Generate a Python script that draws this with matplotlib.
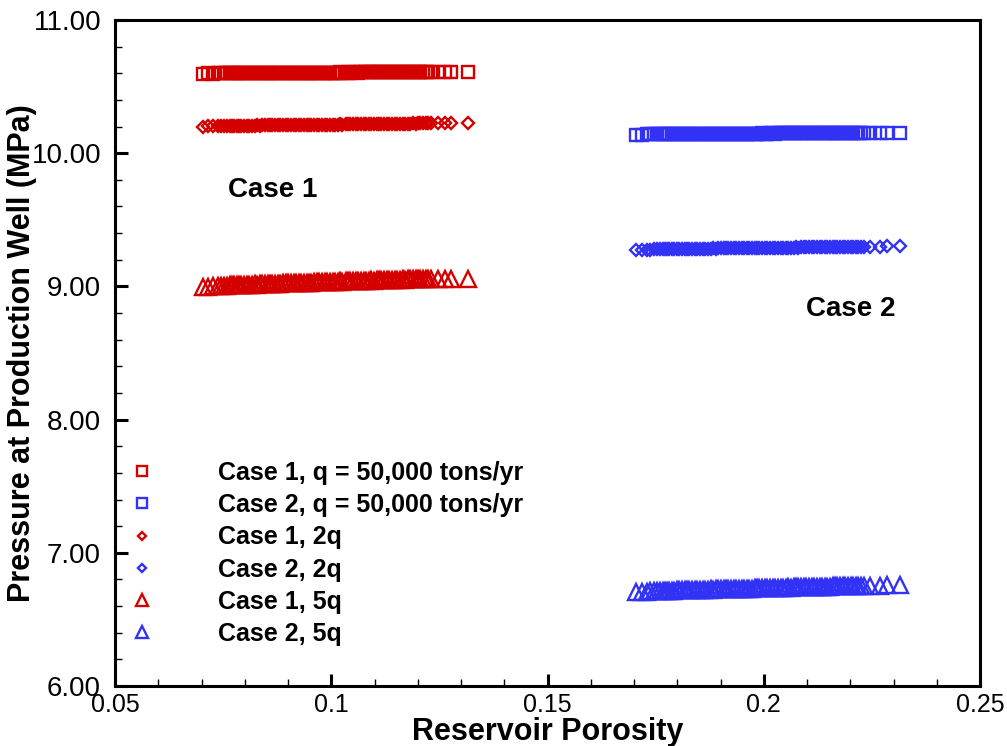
import matplotlib.pyplot as plt
from matplotlib.ticker import MultipleLocator, FormatStrFormatter

# porosity realizations (same set drawn for q, 2q and 5q)
phi_case1 = [0.0704, 0.0716, 0.0727, 0.0738, 0.0745, 0.0752, 0.0758, 0.0765, 0.0771, 0.0776,
             0.0781, 0.0787, 0.0792, 0.0799, 0.0805, 0.0810, 0.0817, 0.0823, 0.0828, 0.0835,
             0.0841, 0.0846, 0.0853, 0.0859, 0.0864, 0.0871, 0.0877, 0.0882, 0.0889, 0.0895,
             0.0900, 0.0907, 0.0913, 0.0918, 0.0925, 0.0931, 0.0936, 0.0943, 0.0949, 0.0954,
             0.0961, 0.0967, 0.0972, 0.0979, 0.0985, 0.0990, 0.0997, 0.1003, 0.1008, 0.1015,
             0.1021, 0.1026, 0.1033, 0.1039, 0.1044, 0.1051, 0.1057, 0.1062, 0.1069, 0.1075,
             0.1080, 0.1087, 0.1093, 0.1098, 0.1105, 0.1111, 0.1116, 0.1123, 0.1129, 0.1134,
             0.1141, 0.1147, 0.1152, 0.1159, 0.1165, 0.1170, 0.1177, 0.1183, 0.1188, 0.1195,
             0.1201, 0.1206, 0.1213, 0.1219, 0.1224, 0.1231,
             0.1246, 0.1262, 0.1276, 0.1316]
phi_case2 = [0.1705, 0.1718, 0.1729, 0.1738, 0.1746, 0.1753, 0.1760, 0.1766, 0.1771, 0.1776,
             0.1781, 0.1787, 0.1792, 0.1799, 0.1805, 0.1810, 0.1817, 0.1823, 0.1828, 0.1835,
             0.1841, 0.1846, 0.1853, 0.1859, 0.1864, 0.1871, 0.1877, 0.1882, 0.1889, 0.1895,
             0.1900, 0.1907, 0.1913, 0.1918, 0.1925, 0.1931, 0.1936, 0.1943, 0.1949, 0.1954,
             0.1961, 0.1967, 0.1972, 0.1979, 0.1985, 0.1990, 0.1997, 0.2003, 0.2008, 0.2015,
             0.2021, 0.2026, 0.2033, 0.2039, 0.2044, 0.2051, 0.2057, 0.2062, 0.2069, 0.2075,
             0.2080, 0.2087, 0.2093, 0.2098, 0.2105, 0.2111, 0.2116, 0.2123, 0.2129, 0.2134,
             0.2141, 0.2147, 0.2152, 0.2159, 0.2165, 0.2170, 0.2177, 0.2183, 0.2188, 0.2195,
             0.2201, 0.2206, 0.2213, 0.2219, 0.2224, 0.2231,
             0.2246, 0.2269, 0.2285, 0.2316]

# pressure at production well (MPa)
p_case1_q = [10.598, 10.599, 10.598, 10.600, 10.599, 10.600, 10.600, 10.601, 10.600, 10.601,
             10.600, 10.601, 10.600, 10.601, 10.601, 10.602, 10.601, 10.602, 10.601, 10.602,
             10.602, 10.601, 10.602, 10.603, 10.602, 10.602, 10.603, 10.602, 10.603, 10.603,
             10.602, 10.603, 10.604, 10.603, 10.603, 10.604, 10.603, 10.604, 10.604, 10.603,
             10.604, 10.605, 10.604, 10.604, 10.605, 10.604, 10.605, 10.605, 10.604, 10.605,
             10.606, 10.605, 10.605, 10.606, 10.605, 10.606, 10.606, 10.605, 10.606, 10.607,
             10.606, 10.606, 10.607, 10.606, 10.607, 10.607, 10.606, 10.607, 10.608, 10.607,
             10.607, 10.608, 10.607, 10.608, 10.608, 10.607, 10.608, 10.608, 10.609, 10.608,
             10.608, 10.609, 10.608, 10.609, 10.609, 10.608,
             10.607, 10.608, 10.607, 10.609]
p_case1_2q = [10.200, 10.201, 10.202, 10.202, 10.203, 10.203, 10.204, 10.204, 10.205, 10.205,
              10.205, 10.206, 10.205, 10.206, 10.207, 10.206, 10.207, 10.207, 10.208, 10.207,
              10.208, 10.208, 10.209, 10.208, 10.209, 10.209, 10.210, 10.209, 10.210, 10.210,
              10.211, 10.210, 10.211, 10.211, 10.212, 10.211, 10.212, 10.212, 10.213, 10.212,
              10.213, 10.213, 10.214, 10.213, 10.214, 10.214, 10.215, 10.214, 10.215, 10.215,
              10.216, 10.215, 10.216, 10.216, 10.217, 10.216, 10.217, 10.217, 10.218, 10.217,
              10.218, 10.218, 10.219, 10.218, 10.219, 10.219, 10.220, 10.219, 10.220, 10.220,
              10.221, 10.220, 10.221, 10.221, 10.222, 10.221, 10.222, 10.222, 10.223, 10.222,
              10.223, 10.223, 10.224, 10.223, 10.224, 10.224,
              10.224, 10.225, 10.225, 10.226]
p_case1_5q = [8.995, 8.998, 9.000, 9.002, 9.003, 9.005, 9.006, 9.007, 9.008, 9.009,
              9.010, 9.011, 9.010, 9.012, 9.013, 9.012, 9.014, 9.015, 9.014, 9.016,
              9.017, 9.016, 9.018, 9.019, 9.018, 9.020, 9.021, 9.020, 9.022, 9.023,
              9.022, 9.024, 9.025, 9.024, 9.026, 9.027, 9.026, 9.028, 9.029, 9.028,
              9.030, 9.031, 9.030, 9.032, 9.033, 9.032, 9.034, 9.035, 9.034, 9.036,
              9.037, 9.036, 9.038, 9.039, 9.038, 9.040, 9.041, 9.040, 9.042, 9.043,
              9.042, 9.044, 9.045, 9.044, 9.046, 9.047, 9.046, 9.048, 9.049, 9.048,
              9.050, 9.050, 9.049, 9.051, 9.052, 9.051, 9.052, 9.053, 9.052, 9.053,
              9.054, 9.053, 9.054, 9.055, 9.054, 9.055,
              9.055, 9.056, 9.056, 9.058]
p_case2_q = [10.140, 10.140, 10.141, 10.141, 10.141, 10.142, 10.142, 10.142, 10.142, 10.143,
             10.143, 10.142, 10.143, 10.143, 10.144, 10.143, 10.143, 10.144, 10.144, 10.143,
             10.144, 10.144, 10.145, 10.144, 10.144, 10.145, 10.145, 10.144, 10.145, 10.145,
             10.146, 10.145, 10.145, 10.146, 10.146, 10.145, 10.146, 10.146, 10.147, 10.146,
             10.146, 10.147, 10.147, 10.146, 10.147, 10.147, 10.148, 10.147, 10.147, 10.148,
             10.148, 10.147, 10.148, 10.148, 10.149, 10.148, 10.148, 10.149, 10.149, 10.148,
             10.149, 10.149, 10.150, 10.149, 10.149, 10.150, 10.150, 10.149, 10.150, 10.150,
             10.151, 10.150, 10.150, 10.151, 10.151, 10.150, 10.151, 10.151, 10.152, 10.151,
             10.151, 10.152, 10.152, 10.151, 10.152, 10.152,
             10.152, 10.152, 10.153, 10.153]
p_case2_2q = [9.275, 9.276, 9.277, 9.277, 9.278, 9.278, 9.279, 9.279, 9.280, 9.280,
              9.280, 9.281, 9.280, 9.281, 9.281, 9.282, 9.281, 9.282, 9.282, 9.283,
              9.282, 9.283, 9.283, 9.284, 9.283, 9.284, 9.284, 9.285, 9.284, 9.285,
              9.285, 9.286, 9.285, 9.286, 9.286, 9.287, 9.286, 9.287, 9.287, 9.288,
              9.287, 9.288, 9.288, 9.289, 9.288, 9.289, 9.289, 9.290, 9.289, 9.290,
              9.290, 9.291, 9.290, 9.291, 9.291, 9.292, 9.291, 9.292, 9.292, 9.293,
              9.292, 9.293, 9.293, 9.294, 9.293, 9.294, 9.294, 9.295, 9.294, 9.295,
              9.295, 9.296, 9.295, 9.296, 9.296, 9.297, 9.296, 9.297, 9.297, 9.298,
              9.297, 9.298, 9.298, 9.299, 9.298, 9.299,
              9.299, 9.299, 9.300, 9.300]
p_case2_5q = [6.705, 6.707, 6.709, 6.710, 6.711, 6.712, 6.713, 6.714, 6.715, 6.716,
              6.716, 6.717, 6.716, 6.718, 6.719, 6.718, 6.720, 6.720, 6.719, 6.721,
              6.722, 6.721, 6.723, 6.723, 6.722, 6.724, 6.725, 6.724, 6.726, 6.726,
              6.725, 6.727, 6.728, 6.727, 6.729, 6.729, 6.728, 6.730, 6.731, 6.730,
              6.732, 6.732, 6.731, 6.733, 6.734, 6.733, 6.735, 6.735, 6.734, 6.736,
              6.737, 6.736, 6.738, 6.738, 6.737, 6.739, 6.740, 6.739, 6.741, 6.741,
              6.740, 6.742, 6.743, 6.742, 6.744, 6.744, 6.743, 6.745, 6.746, 6.745,
              6.747, 6.747, 6.746, 6.748, 6.749, 6.748, 6.750, 6.750, 6.749, 6.751,
              6.752, 6.751, 6.752, 6.753, 6.752, 6.753,
              6.753, 6.754, 6.755, 6.757]

RED = '#d40000'
BLUE = '#3232f6'
FONT = 'Liberation Sans'

fig = plt.figure(figsize=(10.07, 7.46), dpi=100)
ax = fig.add_axes([0.1142, 0.0804, 0.859, 0.8928])

series = [
    (phi_case1, p_case1_q, 's', 9, RED, 'Case 1, q = 50,000 tons/yr'),
    (phi_case2, p_case2_q, 's', 9, BLUE, 'Case 2, q = 50,000 tons/yr'),
    (phi_case1, p_case1_2q, 'D', 6, RED, 'Case 1, 2q'),
    (phi_case2, p_case2_2q, 'D', 6, BLUE, 'Case 2, 2q'),
    (phi_case1, p_case1_5q, '^', 11, RED, 'Case 1, 5q'),
    (phi_case2, p_case2_5q, '^', 11, BLUE, 'Case 2, 5q'),
]
for x, y, m, ms, c, lab in series:
    ax.plot(x, y, m, ms=ms, mfc='none', mec=c, mew=1.7, label=lab)

ax.set_xlim(0.05, 0.25)
ax.set_ylim(6.0, 11.0)
ax.xaxis.set_minor_locator(MultipleLocator(0.01))
ax.yaxis.set_major_locator(MultipleLocator(1.0))
ax.yaxis.set_minor_locator(MultipleLocator(0.2))
ax.yaxis.set_major_formatter(FormatStrFormatter('%.2f'))
ax.set_xticks([0.05, 0.1, 0.15, 0.2, 0.25])
ax.set_xticklabels(['0.05', '0.1', '0.15', '0.2', '0.25'], family=FONT, fontsize=18)
for t in ax.get_yticklabels():
    t.set_family(FONT)
    t.set_fontsize(20)

ax.tick_params(which='major', direction='in', length=9, width=2.2)
ax.tick_params(axis='y', which='major', pad=10)
ax.tick_params(axis='x', which='major', pad=5)
ax.tick_params(which='minor', direction='in', length=5, width=1.0)
for s in ax.spines.values():
    s.set_linewidth(2.2)

ax.set_xlabel('Reservoir Porosity', fontsize=22, fontweight='bold', family=FONT, labelpad=0)
ax.set_ylabel('Pressure at Production Well (MPa)', fontsize=22, fontweight='bold', family=FONT)
ax.yaxis.set_label_coords(-0.09, 0.5)

ax.text(0.0761, 9.724, 'Case 1', fontsize=20, fontweight='bold', family=FONT, va='center')
ax.text(0.2098, 8.83, 'Case 2', fontsize=20, fontweight='bold', family=FONT, va='center')

ax.legend(loc='lower left', bbox_to_anchor=(0.005, 0.045), frameon=False,
          markerscale=0.75, handlelength=1.0, handletextpad=2.56,
          labelspacing=0.33, borderaxespad=0.0,
          prop={'family': FONT, 'weight': 'bold', 'size': 18})

fig.savefig('out.png', dpi=100)
